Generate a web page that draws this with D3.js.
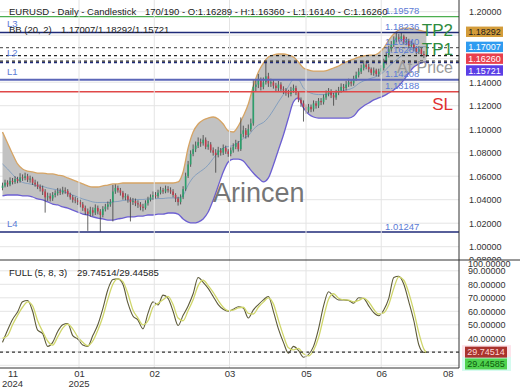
<!DOCTYPE html>
<meta charset="utf-8">
<script src="https://d3js.org/d3.v7.min.js"></script>
<style>
  body { margin: 0; background: #fff; }
  text { font-family: "Liberation Sans", Arial, sans-serif; }
</style>
<div id="chart"></div>
<script>

// ---- daily candles (170 bars) ----
var opens = [
1.0500,1.0520,1.0545,1.0530,1.0560,1.0550,1.0575,1.0560,1.0590,1.0585,
1.0600,1.0570,1.0580,1.0545,1.0530,1.0510,1.0495,1.0470,1.0420,1.0430,
1.0410,1.0440,1.0455,1.0470,1.0460,1.0480,1.0475,1.0445,1.0420,1.0400,
1.0395,1.0380,1.0360,1.0330,1.0300,1.0280,1.0310,1.0290,1.0330,1.0300,
1.0270,1.0320,1.0340,1.0360,1.0380,1.0470,1.0500,1.0480,1.0460,1.0420,
1.0430,1.0400,1.0380,1.0390,1.0370,1.0360,1.0340,1.0330,1.0370,1.0400,
1.0420,1.0440,1.0430,1.0460,1.0480,1.0470,1.0490,1.0480,1.0470,1.0440,
1.0410,1.0380,1.0420,1.0490,1.0600,1.0700,1.0790,1.0830,1.0860,1.0890,
1.0880,1.0910,1.0850,1.0870,1.0820,1.0800,1.0780,1.0820,1.0800,1.0840,
1.0810,1.0790,1.0820,1.0850,1.0880,1.0830,1.0960,1.0990,1.0950,1.1000,
1.1050,1.1360,1.1380,1.1420,1.1360,1.1400,1.1450,1.1390,1.1400,1.1370,
1.1350,1.1380,1.1340,1.1330,1.1310,1.1300,1.1330,1.1350,1.1310,1.1250,
1.1220,1.1190,1.1160,1.1190,1.1170,1.1220,1.1200,1.1240,1.1230,1.1270,
1.1300,1.1320,1.1290,1.1270,1.1310,1.1330,1.1360,1.1350,1.1380,1.1400,
1.1390,1.1430,1.1460,1.1490,1.1520,1.1550,1.1530,1.1510,1.1480,1.1500,
1.1470,1.1490,1.1520,1.1570,1.1630,1.1680,1.1720,1.1760,1.1780,1.1770,
1.1790,1.1740,1.1750,1.1710,1.1720,1.1690,1.1660,1.1680,1.1640,1.16289];
var highs = [
1.0545,1.0570,1.0565,1.0590,1.0585,1.0600,1.0595,1.0625,1.0615,1.0630,
1.0620,1.0605,1.0595,1.0570,1.0555,1.0530,1.0520,1.0490,1.0460,1.0455,
1.0465,1.0480,1.0500,1.0495,1.0510,1.0505,1.0490,1.0460,1.0440,1.0425,
1.0415,1.0400,1.0380,1.0350,1.0325,1.0340,1.0335,1.0360,1.0350,1.0320,
1.0345,1.0365,1.0385,1.0405,1.0525,1.0530,1.0520,1.0500,1.0475,1.0455,
1.0445,1.0420,1.0415,1.0410,1.0395,1.0380,1.0365,1.0395,1.0425,1.0445,
1.0470,1.0465,1.0485,1.0510,1.0500,1.0520,1.0515,1.0505,1.0490,1.0455,
1.0425,1.0445,1.0515,1.0630,1.0730,1.0820,1.0870,1.0895,1.0930,1.0920,
1.0950,1.0930,1.0900,1.0890,1.0845,1.0830,1.0850,1.0840,1.0870,1.0860,
1.0830,1.0845,1.0880,1.0910,1.0900,1.1100,1.1030,1.1010,1.1040,1.1090,
1.1420,1.1420,1.1470,1.1440,1.1440,1.1565,1.1480,1.1430,1.1425,1.1395,
1.1410,1.1400,1.1365,1.1350,1.1335,1.1360,1.1380,1.1370,1.1325,1.1270,
1.1245,1.1210,1.1215,1.1210,1.1245,1.1240,1.1265,1.1265,1.1295,1.1330,
1.1350,1.1340,1.1310,1.1335,1.1360,1.1390,1.1385,1.1410,1.1430,1.1425,
1.1455,1.1490,1.1520,1.1550,1.1585,1.1580,1.1555,1.1525,1.1525,1.1515,
1.1515,1.1545,1.1600,1.1660,1.1710,1.1750,1.1790,1.1830,1.1810,1.1820,
1.1805,1.1785,1.1770,1.1750,1.1735,1.1705,1.1705,1.1695,1.1665,1.16360];
var lows = [
1.0480,1.0505,1.0510,1.0515,1.0530,1.0535,1.0540,1.0545,1.0560,1.0565,
1.0550,1.0545,1.0525,1.0510,1.0490,1.0470,1.0440,1.0290,1.0390,1.0385,
1.0390,1.0420,1.0435,1.0440,1.0445,1.0450,1.0425,1.0400,1.0375,1.0370,
1.0355,1.0335,1.0305,1.0270,1.0135,1.0255,1.0260,1.0270,1.0275,1.01247,
1.0250,1.0300,1.0315,1.0340,1.0215,1.0450,1.0460,1.0435,1.0400,1.0395,
1.0375,1.0215,1.0355,1.0345,1.0330,1.0310,1.0300,1.0315,1.0350,1.0385,
1.0400,1.0410,1.0415,1.0445,1.0450,1.0455,1.0460,1.0450,1.0420,1.0380,
1.0350,1.0360,1.0405,1.0475,1.0585,1.0680,1.0770,1.0805,1.0840,1.0850,
1.0860,1.0830,1.0825,1.0800,1.0775,1.0630,1.0760,1.0775,1.0780,1.0790,
1.0765,1.0770,1.0800,1.0830,1.0810,1.0815,1.0930,1.0920,1.0930,1.0980,
1.1030,1.1320,1.1350,1.1330,1.1340,1.1380,1.1360,1.1360,1.1345,1.1320,
1.1325,1.1315,1.1300,1.1285,1.1270,1.1280,1.1310,1.1290,1.1230,1.1190,
1.1065,1.1130,1.1140,1.1145,1.1150,1.1175,1.1180,1.1205,1.1210,1.1250,
1.1280,1.1265,1.1200,1.1250,1.1290,1.1310,1.1325,1.1330,1.1360,1.1365,
1.1370,1.1410,1.1440,1.1470,1.1500,1.1510,1.1485,1.1460,1.1455,1.1450,
1.1445,1.1470,1.1500,1.1550,1.1610,1.1660,1.1700,1.1740,1.1745,1.1750,
1.1720,1.1715,1.1690,1.1690,1.1665,1.1635,1.1640,1.1620,1.1605,1.16140];
var closes = [
1.0520,1.0545,1.0530,1.0560,1.0550,1.0575,1.0560,1.0590,1.0585,1.0600,
1.0570,1.0580,1.0545,1.0530,1.0510,1.0495,1.0470,1.0420,1.0430,1.0410,
1.0440,1.0455,1.0470,1.0460,1.0480,1.0475,1.0445,1.0420,1.0400,1.0395,
1.0380,1.0360,1.0330,1.0300,1.0280,1.0310,1.0290,1.0330,1.0300,1.0270,
1.0320,1.0340,1.0360,1.0380,1.0470,1.0500,1.0480,1.0460,1.0420,1.0430,
1.0400,1.0380,1.0390,1.0370,1.0360,1.0340,1.0330,1.0370,1.0400,1.0420,
1.0440,1.0430,1.0460,1.0480,1.0470,1.0490,1.0480,1.0470,1.0440,1.0410,
1.0380,1.0420,1.0490,1.0600,1.0700,1.0790,1.0830,1.0860,1.0890,1.0880,
1.0910,1.0850,1.0870,1.0820,1.0800,1.0780,1.0820,1.0800,1.0840,1.0810,
1.0790,1.0820,1.0850,1.0880,1.0830,1.0960,1.0990,1.0950,1.1000,1.1050,
1.1360,1.1380,1.1420,1.1360,1.1400,1.1450,1.1390,1.1400,1.1370,1.1350,
1.1380,1.1340,1.1330,1.1310,1.1300,1.1330,1.1350,1.1310,1.1250,1.1220,
1.1190,1.1160,1.1190,1.1170,1.1220,1.1200,1.1240,1.1230,1.1270,1.1300,
1.1320,1.1290,1.1270,1.1310,1.1330,1.1360,1.1350,1.1380,1.1400,1.1390,
1.1430,1.1460,1.1490,1.1520,1.1550,1.1530,1.1510,1.1480,1.1500,1.1470,
1.1490,1.1520,1.1570,1.1630,1.1680,1.1720,1.1760,1.1780,1.1770,1.1790,
1.1740,1.1750,1.1710,1.1720,1.1690,1.1660,1.1680,1.1640,1.1629,1.16260];

// ---- bollinger (20, 2), read every 2nd bar (last one is bar 169) ----
var bandStep = 2;
var bbUpper = [
1.0976,1.0883,1.0789,1.0704,1.0661,1.0644,1.0636,1.0627,1.0627,1.0619,
1.0619,1.0610,1.0602,1.0585,1.0568,1.0551,1.0534,1.0517,1.0508,1.0508,
1.0517,1.0525,1.0534,1.0534,1.0542,1.0542,1.0542,1.0542,1.0542,1.0542,
1.0542,1.0542,1.0542,1.0542,1.0542,1.0551,1.0636,1.0840,1.0976,1.1044,
1.1078,1.1095,1.1104,1.1087,1.1044,1.0985,1.0976,1.1027,1.1112,1.1214,
1.1368,1.1487,1.1563,1.1614,1.1631,1.1640,1.1640,1.1631,1.1614,1.1572,
1.1521,1.1504,1.1495,1.1495,1.1495,1.1504,1.1521,1.1538,1.1563,1.1580,
1.1597,1.1614,1.1623,1.1631,1.1631,1.1649,1.1691,1.1759,1.1810,1.1844,
1.1861,1.1861,1.1853,1.1844,1.1832,1.18292];
var bbMiddle = [
1.0704,1.0662,1.0615,1.0572,1.0547,1.0538,1.0530,1.0517,1.0513,1.0500,
1.0491,1.0483,1.0470,1.0457,1.0440,1.0423,1.0406,1.0394,1.0381,1.0376,
1.0377,1.0376,1.0381,1.0385,1.0393,1.0398,1.0398,1.0402,1.0402,1.0406,
1.0406,1.0410,1.0410,1.0415,1.0415,1.0415,1.0436,1.0525,1.0589,1.0627,
1.0657,1.0695,1.0751,1.0802,1.0840,1.0853,1.0861,1.0887,1.0921,1.0946,
1.0998,1.1036,1.1057,1.1100,1.1163,1.1232,1.1296,1.1363,1.1423,1.1419,
1.1351,1.1317,1.1300,1.1295,1.1295,1.1300,1.1308,1.1317,1.1329,1.1338,
1.1355,1.1389,1.1411,1.1427,1.1440,1.1458,1.1487,1.1534,1.1572,1.1606,
1.1640,1.1670,1.1691,1.1700,1.1702,1.17007];
var bbLower = [
1.0432,1.0440,1.0440,1.0440,1.0432,1.0432,1.0423,1.0406,1.0398,1.0381,
1.0363,1.0355,1.0338,1.0329,1.0312,1.0295,1.0278,1.0270,1.0253,1.0244,
1.0236,1.0227,1.0227,1.0236,1.0244,1.0253,1.0253,1.0261,1.0261,1.0270,
1.0270,1.0278,1.0278,1.0287,1.0287,1.0278,1.0236,1.0210,1.0202,1.0210,
1.0236,1.0295,1.0398,1.0517,1.0636,1.0721,1.0746,1.0746,1.0729,1.0678,
1.0627,1.0585,1.0551,1.0585,1.0695,1.0823,1.0951,1.1095,1.1232,1.1266,
1.1181,1.1129,1.1104,1.1095,1.1095,1.1095,1.1095,1.1095,1.1095,1.1095,
1.1112,1.1163,1.1198,1.1223,1.1249,1.1266,1.1283,1.1308,1.1334,1.1368,
1.1419,1.1478,1.1529,1.1555,1.1572,1.15721];

// ---- stochastic full (5, 8, 3), same sampling ----
var stochK = [
37,46,54,59.5,67,68,60,46,43.5,34,
37,45,50,51,42,39.5,35,34,42,50,
62,76,83.5,84,80,66,56.5,53.5,47,58.5,
67,64.7,72,69.6,60,49.5,57,64,73,85,
81.5,77,71,65,61.5,60,61.5,63.4,62.5,55,
61,65,68.5,71,60,47,37,29,34,31,
26,28,34,47,64,74.5,71,68.4,68.5,68,
66,70,69.5,64,59,56.7,61,69.6,85,86,
80,67,53,35,29.5,29.74514];
var stochD = [
40,42,50,57,63,67,64,53,45,38,
35,41,47.5,50.5,47,41,37,34.5,38,46,
56,69,80,84,82,73,61,55,50,53,
63,66,68.5,71,65,55,53,60.5,68.5,79,
83,79,74,68,63,60.5,60.8,62.5,63,58.5,
58,63,66.8,70,65.5,53.5,42,33,31.5,32.5,
28.5,27,31,40.5,55.5,69,73,69.7,68.5,68.3,
67,68,69.8,67,61.5,58,58.8,65,77,85.5,
83,73.5,60,44,32,29.44585];

// ---- axes ----
var tickBars   = [4, 30.5, 60.5, 90.5, 121, 151, 177.5];
var tickMonths = ["11", "01", "02", "03", "05", "06", "08"];
var tickYears  = ["2024", "2025", "", "", "", "", ""];
var gridBars   = [30.5, 60.5, 90.5, 121, 151];
var priceGrid  = [1.00, 1.02, 1.04, 1.06, 1.08, 1.10, 1.12, 1.14, 1.16, 1.18, 1.20];
var priceLabels = [1.20, 1.14, 1.12, 1.10, 1.08, 1.06, 1.04, 1.02, 1.00];
var stochGrid  = [20, 30, 40, 50, 60, 70, 80, 90];
var stochLabels = [90, 80, 70, 60, 50, 40];

// ---- levels ----
var solidLevels = [1.19578, 1.18236, 1.14208, 1.13188, 1.01247];
var dashLevels  = [1.1694, 1.1626, 1.1580, 1.1567];
var leftTags    = ["L3", "L2", "L1", "L4"];
var leftTagLevels = [1.18236, 1.1580, 1.14208, 1.01247];
var rightTags   = ["TP2", "TP1", "At Price", "SL"];
var rightTagLevels = [1.18236, 1.1694, 1.1626, 1.13188];
var boxValues   = [1.18292, 1.17007, 1.16260, 1.15721];
var stochBoxValues = [29.74514, 29.44585];

var W = 520, H = 390, plotR = 459, pBottom = 260, sBottom = 368;

var svg = d3.select("#chart").append("svg")
  .attr("width", W).attr("height", H)
  .style("display", "block").style("background", "#fff");

var x = d3.scaleLinear().domain([-1, 182]).range([0, plotR]);
var y = d3.scaleLinear().domain([1.0, 1.2]).range([246.7, 11.7]);
var ys = d3.scaleLinear().domain([40, 80]).range([338.3, 284.3]);
var f5 = d3.format(".5f");
var bandBar = function(k) { return Math.min(k * bandStep, closes.length - 1); };

var defs = svg.append("defs");
defs.append("clipPath").attr("id", "clipP").append("rect")
  .attr("x", 0).attr("y", 0).attr("width", plotR).attr("height", pBottom);
defs.append("clipPath").attr("id", "clipS").append("rect")
  .attr("x", 0).attr("y", pBottom).attr("width", plotR).attr("height", sBottom - pBottom);

var gP = svg.append("g").attr("clip-path", "url(#clipP)");
var gS = svg.append("g").attr("clip-path", "url(#clipS)");

// grid lines
gP.selectAll(".hg").data(priceGrid).enter().append("line")
  .attr("x1", 0).attr("x2", plotR).attr("y1", d => y(d)).attr("y2", d => y(d))
  .attr("stroke", "#e4e4e4");
gS.selectAll(".hg").data(stochGrid).enter().append("line")
  .attr("x1", 0).attr("x2", plotR).attr("y1", d => ys(d)).attr("y2", d => ys(d))
  .attr("stroke", "#e4e4e4");
svg.selectAll(".vg").data(gridBars).enter().append("line")
  .attr("x1", d => x(d)).attr("x2", d => x(d)).attr("y1", 0).attr("y2", sBottom)
  .attr("stroke", "#e4e4e4");

// bollinger band
gP.append("path").datum(bbUpper)
  .attr("d", d3.area().curve(d3.curveMonotoneX)
    .x((d, k) => x(bandBar(k))).y0((d, k) => y(bbLower[k])).y1(d => y(d)))
  .attr("fill", "#c2c2c2");
var bandLine = d3.line().curve(d3.curveMonotoneX).x((d, k) => x(bandBar(k))).y(d => y(d));
gP.append("path").datum(bbUpper).attr("d", bandLine)
  .attr("fill", "none").attr("stroke", "#d6a464").attr("stroke-width", 1.3);
gP.append("path").datum(bbLower).attr("d", bandLine)
  .attr("fill", "none").attr("stroke", "#6c5fd2").attr("stroke-width", 1.3);
gP.append("path").datum(bbMiddle).attr("d", bandLine)
  .attr("fill", "none").attr("stroke", "#7d9bbd").attr("stroke-width", 0.9);

// candles
var bars = d3.range(closes.length);
gP.selectAll(".wick").data(bars).enter().append("line")
  .attr("x1", i => x(i)).attr("x2", i => x(i))
  .attr("y1", i => y(highs[i])).attr("y2", i => y(lows[i]))
  .attr("stroke", "#3c3c3c").attr("stroke-width", 0.8);
gP.selectAll(".body").data(bars).enter().append("rect")
  .attr("x", i => x(i) - 0.8).attr("width", 1.6)
  .attr("y", i => y(Math.max(opens[i], closes[i])))
  .attr("height", i => Math.max(0.8, Math.abs(y(opens[i]) - y(closes[i]))))
  .attr("fill", i => closes[i] >= opens[i] ? "#2c9f6c" : "#c23b4b");

// level lines
var solidColors = ["#4caf50", "#1f2a78", "#5b66b8", "#e04848", "#1f2a78"];
var solidWidths = [1.3, 1.6, 2, 1.5, 1.5];
gP.selectAll(".sl").data(solidLevels).enter().append("line")
  .attr("x1", 0).attr("x2", plotR).attr("y1", d => y(d)).attr("y2", d => y(d))
  .attr("stroke", (d, k) => solidColors[k]).attr("stroke-width", (d, k) => solidWidths[k]);
var dashColors = ["#666", "#222", "#222", "#1f2a78"];
gP.selectAll(".dl").data(dashLevels).enter().append("line")
  .attr("x1", 0).attr("x2", plotR).attr("y1", d => y(d)).attr("y2", d => y(d))
  .attr("stroke", (d, k) => dashColors[k]).attr("stroke-width", 1.2)
  .attr("stroke-dasharray", "3,3");

// level value labels
gP.selectAll(".lv").data(solidLevels.concat(dashLevels.slice(0, 2))).enter().append("text")
  .attr("x", 385).attr("y", d => y(d) - 2.5)
  .attr("font-size", 9.5).attr("fill", "#5b7bd5")
  .text(d => f5(d));
gP.selectAll(".lt").data(leftTags).enter().append("text")
  .attr("x", 7).attr("y", (d, k) => y(leftTagLevels[k]) - 5)
  .attr("font-size", 9.5).attr("fill", "#5b7bd5").text(d => d);

var tagDy = [4, 7, 17, 18];
var tagColor = ["#2e8b3e", "#2e8b3e", "#999", "#e03030"];
var tagSize = [17, 17, 16, 17];
gP.selectAll(".rt").data(rightTags).enter().append("text")
  .attr("x", 453).attr("y", (d, k) => y(rightTagLevels[k]) + tagDy[k])
  .attr("text-anchor", "end")
  .attr("font-size", (d, k) => tagSize[k]).attr("fill", (d, k) => tagColor[k])
  .text(d => d);

// watermark
svg.append("text").attr("x", 213).attr("y", 202)
  .attr("font-size", 27).attr("fill", "#555").attr("opacity", 0.8)
  .text("Arincen");

// stochastic
var kLine = d3.line().curve(d3.curveMonotoneX).x((d, k) => x(bandBar(k))).y(d => ys(d));
gS.append("path").datum(stochK).attr("d", kLine)
  .attr("fill", "none").attr("stroke", "#5d5a3a").attr("stroke-width", 1.1);
gS.append("path").datum(stochD).attr("d", kLine)
  .attr("fill", "none").attr("stroke", "#cfd66a").attr("stroke-width", 1.3);
gS.append("line").attr("x1", 0).attr("x2", plotR)
  .attr("y1", ys(stochK[stochK.length - 1])).attr("y2", ys(stochK[stochK.length - 1]))
  .attr("stroke", "#333").attr("stroke-width", 1.2).attr("stroke-dasharray", "3,3");

// frame
svg.append("line").attr("x1", 0).attr("x2", W).attr("y1", pBottom).attr("y2", pBottom)
  .attr("stroke", "#333");
svg.append("line").attr("x1", 0).attr("x2", plotR).attr("y1", sBottom).attr("y2", sBottom)
  .attr("stroke", "#333");
svg.append("line").attr("x1", plotR).attr("x2", plotR).attr("y1", 0).attr("y2", sBottom)
  .attr("stroke", "#333");

// right axes
var ax = svg.append("g").attr("transform", "translate(469,0)")
  .call(d3.axisRight(y).tickValues(priceLabels).tickFormat(f5).tickSize(0).tickPadding(0));
var ax2 = svg.append("g").attr("transform", "translate(468,0)")
  .call(d3.axisRight(ys).tickValues(stochLabels).tickFormat(f5).tickSize(0).tickPadding(0));
[ax, ax2].forEach(function(a) {
  a.select(".domain").remove();
  a.selectAll("text").attr("font-size", 9).attr("fill", "#333")
    .style("font-family", "Liberation Sans, Arial, sans-serif");
});
// clamped top labels
svg.append("text").attr("x", 469).attr("y", 263).attr("font-size", 9).attr("fill", "#333")
  .attr("clip-path", "url(#clipTop)").text("0.98000");
defs.append("clipPath").attr("id", "clipTop").append("rect")
  .attr("x", 460).attr("y", 250).attr("width", 60).attr("height", 10);
svg.append("text").attr("x", 468).attr("y", 267).attr("font-size", 9).attr("fill", "#333")
  .text("100.00000");

// value boxes
function stack(vals, sc) {
  var out = [];
  vals.forEach(function(v, k) {
    var p = sc(v);
    if (k > 0) p = Math.max(p, out[k - 1] + 11.8);
    out.push(p);
  });
  return out;
}
var boxY = stack(boxValues, y);
var boxFill = ["#d39c3a", "#2f9bf0", "#e8404e", "#5b3fe6"];
var boxInk = ["#222", "#fff", "#fff", "#fff"];
var gb = svg.append("g");
gb.selectAll("rect").data(boxValues).enter().append("rect")
  .attr("x", 466).attr("width", 37).attr("y", (d, k) => boxY[k] - 5.2).attr("height", 10.4)
  .attr("fill", (d, k) => boxFill[k]);
gb.selectAll("text").data(boxValues).enter().append("text")
  .attr("x", 484.5).attr("y", (d, k) => boxY[k] + 3.2).attr("text-anchor", "middle")
  .attr("font-size", 9).attr("fill", (d, k) => boxInk[k]).text(d => f5(d));

var sBoxY = stack(stochBoxValues, ys);
var sHalo = ["#fde3ea", "#d4fbef"];
var sFill = ["#a9332d", "#4fd24f"];
var sInk = ["#ffd6d6", "#0c5a0c"];
var gs = svg.append("g");
gs.selectAll(".h").data(stochBoxValues).enter().append("rect")
  .attr("x", 462).attr("width", 49).attr("y", (d, k) => sBoxY[k] - 7).attr("height", 14)
  .attr("fill", (d, k) => sHalo[k]);
gs.selectAll(".b").data(stochBoxValues).enter().append("rect")
  .attr("x", 465).attr("width", 42).attr("y", (d, k) => sBoxY[k] - 5.5).attr("height", 11)
  .attr("fill", (d, k) => sFill[k]);
gs.selectAll("text").data(stochBoxValues).enter().append("text")
  .attr("x", 486).attr("y", (d, k) => sBoxY[k] + 3.3).attr("text-anchor", "middle")
  .attr("font-size", 9).attr("fill", (d, k) => sInk[k]).text(d => f5(d));

// x axis
var axb = svg.append("g").attr("transform", "translate(0,370)")
  .call(d3.axisBottom(x).tickValues(tickBars).tickFormat((d, k) => tickMonths[k])
    .tickSize(0).tickPadding(0));
axb.select(".domain").remove();
axb.selectAll("text").attr("font-size", 9.5).attr("fill", "#333")
  .style("font-family", "Liberation Sans, Arial, sans-serif");
svg.selectAll(".yr").data(tickBars).enter().append("text")
  .attr("x", d => x(d)).attr("y", 387).attr("text-anchor", "middle")
  .attr("font-size", 9.5).attr("fill", "#333")
  .text((d, k) => tickYears[k]);

// titles
var titles = [
  {x: 9, y: 15, t: "EURUSD - Daily - Candlestick"},
  {x: 145, y: 15, t: "170/190 - O:1.16289 - H:1.16360 - L:1.16140 - C:1.16260"},
  {x: 9, y: 33, t: "BB (20, 2)"},
  {x: 61, y: 33, t: "1.17007/1.18292/1.15721"},
  {x: 9, y: 275.5, t: "FULL (5, 8, 3)"},
  {x: 77, y: 275.5, t: "29.74514/29.44585"}
];
svg.selectAll(".ttl").data(titles).enter().append("text")
  .attr("x", d => d.x).attr("y", d => d.y)
  .attr("font-size", 9.5).attr("fill", "#222").text(d => d.t);

</script>
